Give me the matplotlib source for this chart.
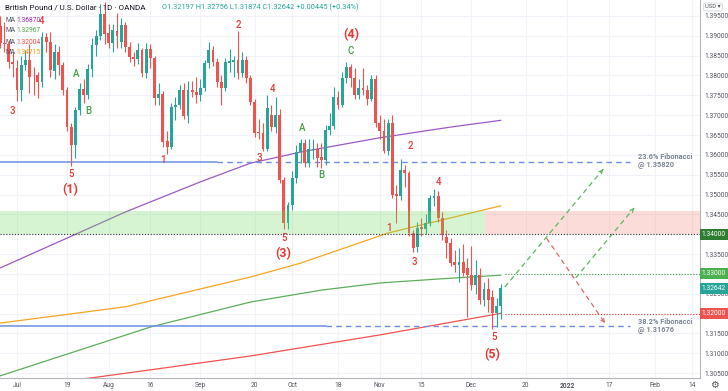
import numpy as np
import pandas as pd
import matplotlib
matplotlib.use('Agg')
import matplotlib.pyplot as plt

plt.rcParams['font.family'] = ['Roboto', 'DejaVu Sans']

# daily candles, GBP/USD (OANDA), 25 Jun - 10 Dec 2021
days = pd.bdate_range('2021-06-25', '2021-12-10')
opens = [1.3925, 1.3882, 1.3880, 1.3835, 1.3819, 1.3764, 1.3827, 1.3840, 1.3797, 1.3800,
         1.3784, 1.3897, 1.3884, 1.3811, 1.3859, 1.3827, 1.3764, 1.3670, 1.3625, 1.3713,
         1.3766, 1.3751, 1.3816, 1.3877, 1.3900, 1.3955, 1.3907, 1.3882, 1.3912, 1.3885,
         1.3927, 1.3872, 1.3846, 1.3842, 1.3864, 1.3806, 1.3867, 1.3844, 1.3743, 1.3753,
         1.3635, 1.3620, 1.3721, 1.3726, 1.3764, 1.3698, 1.3764, 1.3758, 1.3751, 1.3769,
         1.3832, 1.3864, 1.3834, 1.3784, 1.3769, 1.3832, 1.3834, 1.3839, 1.3806, 1.3839,
         1.3794, 1.3733, 1.3658, 1.3655, 1.3615, 1.3700, 1.3670, 1.3700, 1.3537, 1.3428,
         1.3474, 1.3542, 1.3607, 1.3630, 1.3580, 1.3613, 1.3615, 1.3595, 1.3587, 1.3663,
         1.3673, 1.3746, 1.3726, 1.3794, 1.3821, 1.3794, 1.3751, 1.3768, 1.3763, 1.3741,
         1.3791, 1.3680, 1.3660, 1.3610, 1.3680, 1.3501, 1.3496, 1.3562, 1.3555, 1.3403,
         1.3368, 1.3419, 1.3413, 1.3428, 1.3491, 1.3496, 1.3441, 1.3393, 1.3378, 1.3330,
         1.3322, 1.3330, 1.3315, 1.3297, 1.3272, 1.3297, 1.3234, 1.3262, 1.3241, 1.3201,
         1.32197]
highs = [1.3950, 1.3935, 1.3890, 1.3860, 1.3840, 1.3850, 1.3865, 1.3880, 1.3822, 1.3810,
         1.3910, 1.3907, 1.3909, 1.3880, 1.3875, 1.3835, 1.3770, 1.3680, 1.3720, 1.3780,
         1.3790, 1.3830, 1.3895, 1.3915, 1.3980, 1.3985, 1.3930, 1.3930, 1.3958, 1.3945,
         1.3935, 1.3885, 1.3860, 1.3882, 1.3870, 1.3882, 1.3880, 1.3850, 1.3781, 1.3760,
         1.3660, 1.3730, 1.3746, 1.3775, 1.3780, 1.3785, 1.3785, 1.3796, 1.3790, 1.3840,
         1.3884, 1.3875, 1.3845, 1.3800, 1.3845, 1.3868, 1.3850, 1.3913, 1.3860, 1.3850,
         1.3800, 1.3740, 1.3690, 1.3680, 1.3750, 1.3725, 1.3745, 1.3715, 1.3545, 1.3480,
         1.3560, 1.3625, 1.3640, 1.3640, 1.3640, 1.3640, 1.3630, 1.3630, 1.3675, 1.3705,
         1.3770, 1.3760, 1.3810, 1.3834, 1.3830, 1.3820, 1.3790, 1.3820, 1.3775, 1.3800,
         1.3800, 1.3700, 1.3690, 1.3690, 1.3700, 1.3525, 1.3590, 1.3575, 1.3560, 1.3410,
         1.3430, 1.3440, 1.3450, 1.3500, 1.3514, 1.3508, 1.3455, 1.3410, 1.3390, 1.3360,
         1.3365, 1.3375, 1.3340, 1.3370, 1.3335, 1.3315, 1.3280, 1.3290, 1.3260, 1.3240,
         1.32756]
lows = [1.3870, 1.3860, 1.3820, 1.3795, 1.3735, 1.3735, 1.3815, 1.3756, 1.3750, 1.3743,
        1.3770, 1.3860, 1.3796, 1.3790, 1.3800, 1.3750, 1.3660, 1.3572, 1.3592, 1.3700,
        1.3730, 1.3740, 1.3796, 1.3850, 1.3890, 1.3880, 1.3870, 1.3860, 1.3870, 1.3870,
        1.3860, 1.3835, 1.3825, 1.3830, 1.3796, 1.3794, 1.3820, 1.3725, 1.3726, 1.3620,
        1.3602, 1.3615, 1.3688, 1.3715, 1.3690, 1.3680, 1.3745, 1.3730, 1.3735, 1.3760,
        1.3820, 1.3825, 1.3770, 1.3726, 1.3760, 1.3810, 1.3795, 1.3790, 1.3795, 1.3780,
        1.3725, 1.3645, 1.3640, 1.3610, 1.3610, 1.3660, 1.3655, 1.3530, 1.3412, 1.3412,
        1.3460, 1.3530, 1.3580, 1.3570, 1.3570, 1.3590, 1.3570, 1.3567, 1.3575, 1.3650,
        1.3665, 1.3715, 1.3720, 1.3780, 1.3770, 1.3740, 1.3740, 1.3750, 1.3725, 1.3735,
        1.3670, 1.3640, 1.3605, 1.3600, 1.3490, 1.3428, 1.3485, 1.3520, 1.3395, 1.3355,
        1.3355, 1.3395, 1.3400, 1.3420, 1.3470, 1.3430, 1.3385, 1.3340, 1.3320, 1.3305,
        1.3280, 1.3295, 1.3191, 1.3260, 1.3250, 1.3225, 1.3220, 1.3205, 1.3160, 1.3166,
        1.31874]
closes = [1.3882, 1.3880, 1.3835, 1.3830, 1.3764, 1.3827, 1.3840, 1.3797, 1.3795, 1.3783,
          1.3897, 1.3884, 1.3814, 1.3859, 1.3827, 1.3764, 1.3670, 1.3625, 1.3713, 1.3766,
          1.3751, 1.3816, 1.3877, 1.3900, 1.3955, 1.3905, 1.3882, 1.3915, 1.3900, 1.3927,
          1.3872, 1.3847, 1.3842, 1.3864, 1.3806, 1.3867, 1.3844, 1.3743, 1.3753, 1.3632,
          1.3620, 1.3721, 1.3726, 1.3764, 1.3698, 1.3764, 1.3758, 1.3751, 1.3769, 1.3832,
          1.3864, 1.3834, 1.3784, 1.3769, 1.3834, 1.3837, 1.3839, 1.3806, 1.3839, 1.3794,
          1.3733, 1.3655, 1.3655, 1.3615, 1.3718, 1.3670, 1.3700, 1.3537, 1.3428, 1.3474,
          1.3542, 1.3607, 1.3630, 1.3580, 1.3615, 1.3615, 1.3592, 1.3587, 1.3663, 1.3673,
          1.3746, 1.3726, 1.3794, 1.3821, 1.3794, 1.3751, 1.3768, 1.3763, 1.3741, 1.3791,
          1.3680, 1.3660, 1.3610, 1.3680, 1.3499, 1.3496, 1.3562, 1.3555, 1.3403, 1.3365,
          1.3416, 1.3413, 1.3428, 1.3491, 1.3496, 1.3441, 1.3398, 1.3378, 1.3327, 1.3322,
          1.3330, 1.3302, 1.3297, 1.3272, 1.3297, 1.3234, 1.3262, 1.3234, 1.3201, 1.3220,
          1.32642]

# moving averages read at a few dates
ma_purple_d = ['2021-06-25', '2021-08-06', '2021-09-01', '2021-09-17', '2021-10-05', '2021-11-01', '2021-11-24', '2021-12-10']
ma_purple = [1.3315, 1.3456, 1.3532, 1.3579, 1.3607, 1.3643, 1.3670, 1.36870]
ma_green_d = ['2021-06-25', '2021-08-16', '2021-09-17', '2021-10-12', '2021-11-01', '2021-11-19', '2021-12-10']
ma_green = [1.3043, 1.3166, 1.3229, 1.3259, 1.3277, 1.3287, 1.32967]
ma_red_d = ['2021-06-25', '2021-07-27', '2021-08-16', '2021-09-17', '2021-11-01', '2021-12-10']
ma_red = [1.3010, 1.3038, 1.3058, 1.3093, 1.3146, 1.32004]
ma_orange_d = ['2021-06-25', '2021-08-06', '2021-09-17', '2021-10-05', '2021-11-03', '2021-12-10']
ma_orange = [1.3176, 1.3217, 1.3292, 1.3327, 1.3403, 1.34715]

fib_236 = 1.35820
fib_382 = 1.31676
zone_lo, zone_hi = 1.3400, 1.3458
levels = [1.34000, 1.33000, 1.32000]
last_close = 1.32642

tick_dates = ['2021-07-01', '2021-07-19', '2021-08-02', '2021-08-16', '2021-09-01', '2021-09-20',
              '2021-10-01', '2021-10-18', '2021-11-01', '2021-11-15', '2021-12-01', '2021-12-20',
              '2022-01-03', '2022-01-17', '2022-02-01', '2022-02-14']
tick_labels = ['Jul', '19', 'Aug', '16', 'Sep', '20', 'Oct', '18', 'Nov', '15', 'Dec', '20',
               '2022', '17', 'Feb', '14']

# projected paths (date, price)
proj_green1 = [('2021-12-13', 1.3267), ('2022-01-14', 1.3569)]
proj_red = [('2021-12-27', 1.3390), ('2022-01-14', 1.3176)]
proj_green2 = [('2022-01-05', 1.3290), ('2022-01-25', 1.3466)]

wave_red = [('3', 2.8, 1.3711), ('4', 10.0, 1.3937), ('5', 17.0, 1.3552), ('1', 39.0, 1.3587),
            ('2', 57.0, 1.3927), ('4', 65.2, 1.3766), ('3', 62.0, 1.3592), ('5', 68.0, 1.3390),
            ('2', 98.3, 1.3622), ('4', 105.2, 1.3532), ('1', 93.2, 1.3416), ('3', 99.2, 1.3330),
            ('5', 118.4, 1.3140)]
wave_big = [('(1)', 16.7, 1.3512), ('(3)', 67.8, 1.3352), ('(4)', 84.1, 1.3902), ('(5)', 117.9, 1.3097)]
wave_green = [('A', 18.2, 1.3804), ('B', 21.0, 1.3711), ('A', 72.4, 1.3668), ('B', 77.1, 1.3549),
              ('C', 84.1, 1.3862)]

full = pd.bdate_range('2021-06-25', '2022-03-01')


def pos(d):
    return full.get_loc(pd.Timestamp(d))


UP, DOWN = '#26a69a', '#ef5350'
GRID = '#f0f3fa'
TXT = '#50535e'

fig = plt.figure(figsize=(7.28, 3.91), dpi=100)
ax = fig.add_axes([0, 13 / 391, 700 / 728, 378 / 391])
ax.set_xlim(-0.07, 167.8)
ax.set_ylim(1.30375, 1.39903)

x = np.arange(len(days))
o, h, l, c = map(np.array, (opens, highs, lows, closes))
col = np.where(c >= o, UP, DOWN)
ax.vlines(x, l, h, colors=col, lw=0.8, zorder=3)
ax.bar(x, np.maximum(np.abs(c - o), 0.00006), bottom=np.minimum(o, c), width=0.68,
       color=col, zorder=4)

# moving averages
for dd, vv, cc in [(ma_purple_d, ma_purple, '#9c5bc4'), (ma_green_d, ma_green, '#5fae5c'),
                   (ma_red_d, ma_red, '#ef5350'), (ma_orange_d, ma_orange, '#f5a623')]:
    ax.plot([pos(d) for d in dd], vv, color=cc, lw=0.9, zorder=2)

# zones
ax.axhspan(zone_lo, zone_hi, xmin=0, xmax=485 / 700, color='#6fd95a', alpha=0.28, lw=0, zorder=5)
ax.axhspan(zone_lo, zone_hi, xmin=485 / 700, xmax=1, color='#f28b82', alpha=0.3, lw=0, zorder=5)
ax.axhline(levels[0], color='#333333', lw=0.8, ls=(0, (1, 1.6)), zorder=6)
ax.plot([pos('2021-12-13'), 168], [levels[1]] * 2, color='#43a047', lw=0.8, ls=(0, (1, 1.6)), zorder=6)
ax.plot([pos('2021-12-13'), 168], [levels[2]] * 2, color='#e53935', lw=0.8, ls=(0, (1, 1.6)), zorder=6)

# fibonacci lines
BLUE = '#6d8de6'
ax.plot([-1, pos('2021-09-07')], [fib_236] * 2, color=BLUE, lw=1.1, zorder=2)
ax.plot([pos('2021-09-07'), pos('2022-01-24')], [fib_236] * 2, color=BLUE, lw=1.0, ls=(0, (4, 3)), zorder=2)
ax.plot([-1, pos('2021-10-13')], [fib_382] * 2, color=BLUE, lw=1.1, zorder=2)
ax.plot([pos('2021-10-13'), pos('2022-01-24')], [fib_382] * 2, color=BLUE, lw=1.0, ls=(0, (4, 3)), zorder=2)
ax.text(pos('2022-01-26'), fib_236 + 0.0002, '23.6% Fibonacci\n@ 1.35820', fontsize=5.3, color='#7b8595',
        fontweight='bold', va='center', linespacing=1.0)
ax.text(pos('2022-01-26'), fib_382 + 0.0002, '38.2% Fibonacci\n@ 1.31676', fontsize=5.3, color='#7b8595',
        fontweight='bold', va='center', linespacing=1.0)

# projections
for path, cc in [(proj_green1, '#5cb85c'), (proj_red, '#e06666'), (proj_green2, '#5cb85c')]:
    px = [pos(d) for d, _ in path]
    py = [v for _, v in path]
    ax.plot(px, py, color=cc, lw=0.9, ls=(0, (4, 3)), zorder=6)
    ax.annotate('', xy=(px[1], py[1]), xytext=(px[1] - (px[1] - px[0]) * 0.05, py[1] - (py[1] - py[0]) * 0.05),
                arrowprops=dict(arrowstyle='->', color=cc, lw=0.8, mutation_scale=6), zorder=6)

# wave labels
for t, xx, yy in wave_red:
    ax.text(xx, yy, t, fontsize=7, color='#e53935', ha='center', va='center', fontweight='medium', zorder=7)
for t, xx, yy in wave_big:
    ax.text(xx, yy, t, fontsize=9, color='#e53935', ha='center', va='center', fontweight='bold', zorder=7)
for t, xx, yy in wave_green:
    ax.text(xx, yy, t, fontsize=7, color='#43a047', ha='center', va='center', fontweight='medium', zorder=7)

# axes styling; labels under the price boxes are left out
yt = np.round(np.arange(1.305, 1.39501, 0.005), 3)
ax.set_yticks(yt)
ax.set_yticklabels(['' if v in (1.34, 1.33, 1.32) else f'{v:.5f}' for v in yt])
ax.yaxis.tick_right()
ax.set_xticks([pos(d) for d in tick_dates])
ax.set_xticklabels(tick_labels)
ax.tick_params(axis='both', length=0, labelsize=4.8, colors=TXT)
ax.tick_params(axis='y', pad=3)
ax.tick_params(axis='x', pad=3)
for lbl in ax.get_xticklabels():
    if lbl.get_text() == '2022':
        lbl.set_fontweight('bold')
ax.grid(color=GRID, lw=0.8, zorder=0)
for s in ['top', 'left']:
    ax.spines[s].set_visible(False)
ax.spines['right'].set_color('#b2b5be')
ax.spines['bottom'].set_color('#b2b5be')
ax.spines['right'].set_linewidth(0.8)
ax.spines['bottom'].set_linewidth(0.8)

# price boxes on the right scale
for v, fc in [(levels[0], '#2e7d32'), (levels[1], '#4caf50'), (last_close, '#26a69a'), (levels[2], '#ef5350')]:
    ax.text(1.0 + 14 / 700, v, f'{v:.5f}', transform=ax.get_yaxis_transform(), fontsize=4.8, color='white',
            va='center', ha='center', zorder=10, clip_on=False,
            bbox=dict(boxstyle='square,pad=0.3', fc=fc, ec='none'))

# header
fig.text(5 / 728, 1 - 7 / 391, 'British Pound / U.S. Dollar · 1D · OANDA', fontsize=5.8, color='#131722',
         va='center')
fig.text(162 / 728, 1 - 7 / 391, 'O1.32197 H1.32756 L1.31874 C1.32642 +0.00445 (+0.34%)', fontsize=5.3,
         color='#26a69a', va='center')
for i, (val, cc) in enumerate([('1.36870', '#9c27b0'), ('1.32967', '#4caf50'), ('1.32004', '#f44336'),
                               ('1.34715', '#ff9800')]):
    yy = 1 - (20 + 11 * i) / 391
    fig.text(5 / 728, yy, 'MA', fontsize=4.8, color=TXT, va='center')
    fig.text(16 / 728, yy, val, fontsize=4.8, color=cc, va='center')
fig.text(713 / 728, 1 - 7 / 391, 'USD ▾', fontsize=4.2, color=TXT, ha='center', va='center',
         bbox=dict(boxstyle='round,pad=0.25', fc='white', ec='#d1d4dc', lw=0.6))
fig.text(714 / 728, 6 / 391, '⚙', fontsize=7, color=TXT, ha='center', va='center')

fig.savefig('out.png', dpi=100)
